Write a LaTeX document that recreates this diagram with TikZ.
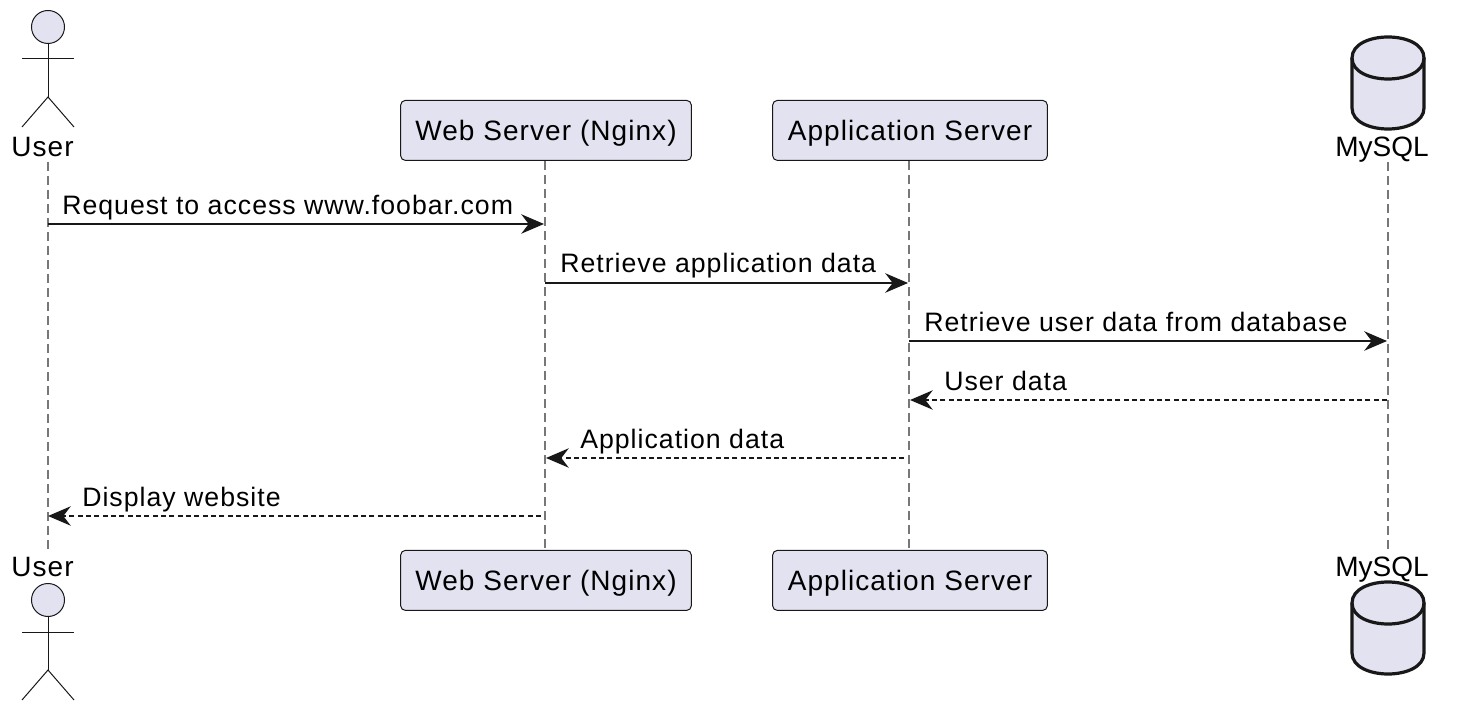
\documentclass[tikz,border=0pt]{standalone}
\usepackage{fontspec}
\setmainfont{Liberation Sans}
\newfontfamily\widefont[LetterSpace=3.8]{Liberation Sans}
\usetikzlibrary{arrows.meta}

\definecolor{partfill}{HTML}{E2E2F0}
\definecolor{partline}{HTML}{181818}
\definecolor{lifegray}{HTML}{777777}

\begin{document}
\begin{tikzpicture}[
    x=0.75pt, y=-0.75pt,
    part/.style={rectangle, draw=partline, fill=partfill, line width=0.75pt, rounded corners=3.5pt, minimum height=45pt, inner sep=0pt, text depth=0pt, font=\widefont\fontsize{21}{25}\selectfont},
    name_lbl/.style={inner sep=0pt, anchor=base, font=\fontsize{21}{25}\selectfont},
    msg_lbl/.style={inner sep=0pt, anchor=base west, font=\widefont\fontsize{20}{24}\selectfont},
    life/.style={draw=lifegray, line width=1.2pt, dash pattern=on 7pt off 3.5pt},
    call/.style={draw=partline, line width=1.5pt, -{Stealth[length=17pt, width=14.5pt, inset=5.5pt]}},
    back/.style={call, dash pattern=on 3.75pt off 2.5pt},
    stick/.style={draw=partline, line width=0.75pt},
    can/.style={draw=partline, fill=partfill, line width=2.4pt},
]
    \useasboundingbox (0,0) rectangle (1458,712);

    % Participants, top
    \node[name_lbl, font=\widefont\fontsize{21}{25}\selectfont] (user_top) at (42.5,157) {User};
    \node[part, minimum width=218pt] (web_top) at (546,130.4) {Web Server (Nginx)};
    \node[part, minimum width=206pt] (app_top) at (910,130.4) {Application Server};
    \node[name_lbl] (db_top) at (1382,157) {MySQL};

    % Participants, bottom
    \node[name_lbl, font=\widefont\fontsize{21}{25}\selectfont] (user_bot) at (42.5,576) {User};
    \node[part, minimum width=218pt] (web_bot) at (546,580.4) {Web Server (Nginx)};
    \node[part, minimum width=206pt] (app_bot) at (910,580.4) {Application Server};
    \node[name_lbl] (db_bot) at (1382,576) {MySQL};

    % Lifeline ends
    \coordinate (user_a) at (48,162);
    \coordinate (user_b) at (48,552);
    \coordinate (db_a) at (1388,162);
    \coordinate (db_b) at (1388,552);

    % Lifelines
    \draw[life] (user_a) -- (user_b);
    \draw[life] (web_top.south -| 545,0) -- (web_bot.north -| 545,0);
    \draw[life] (app_top.south -| 909,0) -- (app_bot.north -| 909,0);
    \draw[life] (db_a) -- (db_b);

    % Actors
    \foreach \dy in {0,573} {
        \draw[stick, fill=partfill] (48,27+\dy) circle (16.5);
        \draw[stick] (48,43+\dy) -- (48,97+\dy) (22,59+\dy) -- (74,59+\dy);
        \draw[stick] (22,127+\dy) -- (48,97+\dy) -- (74,127+\dy);
    }

    % Databases
    \foreach \dy in {0,545} {
        \draw[can] (1352,58+\dy) .. controls (1352,30+\dy) and (1424,30+\dy) .. (1424,58+\dy)
            -- (1424,108+\dy) .. controls (1424,136+\dy) and (1352,136+\dy) .. (1352,108+\dy) -- cycle;
        \draw[can, fill=none] (1352,58+\dy) .. controls (1352,86+\dy) and (1424,86+\dy) .. (1424,58+\dy);
    }

    % Message ends
    \coordinate (m1_a) at (48,224);
    \coordinate (m1_b) at (544,224);
    \coordinate (m2_a) at (545,283);
    \coordinate (m2_b) at (908,283);
    \coordinate (m3_a) at (909,341);
    \coordinate (m3_b) at (1387,341);
    \coordinate (m4_a) at (1387,400);
    \coordinate (m4_b) at (910,400);
    \coordinate (m5_a) at (904,458);
    \coordinate (m5_b) at (546,458);
    \coordinate (m6_a) at (541,516);
    \coordinate (m6_b) at (48,516);

    % Messages
    \draw[call] (m1_a) -- (m1_b);
    \draw[call] (m2_a) -- (m2_b);
    \draw[call] (m3_a) -- (m3_b);
    \draw[back] (m4_a) -- (m4_b);
    \draw[back] (m5_a) -- (m5_b);
    \draw[back] (m6_a) -- (m6_b);

    % Message labels
    \node[msg_lbl] (m1_lbl) at (62,215) {Request to access www.foobar.com};
    \node[msg_lbl] (m2_lbl) at (560,273) {Retrieve application data};
    \node[msg_lbl] (m3_lbl) at (924,332) {Retrieve user data from database};
    \node[msg_lbl] (m4_lbl) at (944,390) {User data};
    \node[msg_lbl] (m5_lbl) at (580,448) {Application data};
    \node[msg_lbl] (m6_lbl) at (82,506) {Display website};

\end{tikzpicture}
\end{document}
